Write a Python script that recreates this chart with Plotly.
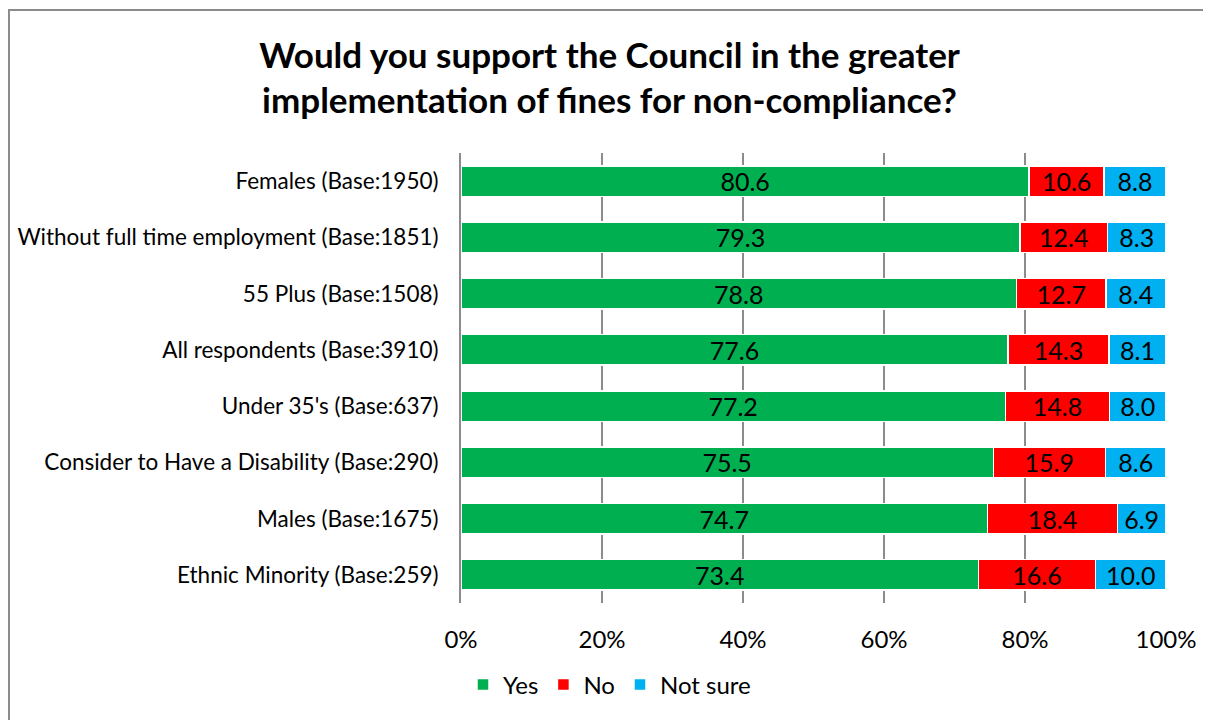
import plotly.graph_objects as go

# survey groups, top to bottom
groups = [
    "Females (Base:1950)",
    "Without full time employment (Base:1851)",
    "55 Plus (Base:1508)",
    "All respondents (Base:3910)",
    "Under 35's (Base:637)",
    "Consider to Have a Disability (Base:290)",
    "Males (Base:1675)",
    "Ethnic Minority (Base:259)",
]
yes = [80.6, 79.3, 78.8, 77.6, 77.2, 75.5, 74.7, 73.4]
no = [10.6, 12.4, 12.7, 14.3, 14.8, 15.9, 18.4, 16.6]
not_sure = [8.8, 8.3, 8.4, 8.1, 8.0, 8.6, 6.9, 10.0]

x_ticks = [0, 20, 40, 60, 80, 100]
x_tick_text = ["0%", "20%", "40%", "60%", "80%", "100%"]

FONT = "Lato, Calibri, 'Open Sans', sans-serif"

# the page body has an 8px margin, so the figure is sized 8px smaller
W, H = 1203, 712
L, T, R, B = 453, 145, 45, 117
PW, PH = W - L - R, H - T - B

fig = go.Figure()
for name, vals, col in [("Yes", yes, "#00B050"), ("No", no, "#FF0000"), ("Not sure", not_sure, "#00B0F0")]:
    fig.add_trace(go.Bar(
        y=groups, x=vals, name=name, orientation="h",
        marker=dict(color=col, line=dict(color="white", width=1.5)),
        text=[f"{v:.1f}" for v in vals], textposition="inside",
        insidetextanchor="middle",
        textfont=dict(size=25, color="black", family=FONT),
        cliponaxis=False,
    ))

# chart frame: only the top and left edges show in the reference
fx0, fx1 = (0 - L) / PW, (W + 20 - L) / PW
fy0, fy1 = (T + PH - H - 20) / PH, (T + PH - 2) / PH
frame = dict(color="#8c8c8c", width=2)

fig.update_layout(
    barmode="stack",
    bargap=0.46,
    width=W, height=H,
    margin=dict(l=L, r=R, t=T, b=B, autoexpand=False),
    paper_bgcolor="white", plot_bgcolor="white",
    font=dict(family=FONT, color="black"),
    uniformtext=dict(mode="show", minsize=25),
    title=dict(
        text="<b>Would you support the Council in the greater<br>implementation of fines for non-compliance?</b>",
        x=0.5, xanchor="center", y=0.916, yanchor="middle",
        font=dict(size=35, color="black", family=FONT),
    ),
    legend=dict(
        orientation="h", x=2 / PW, xanchor="left", y=-0.182, yanchor="middle",
        font=dict(size=24, family=FONT), traceorder="normal",
        itemwidth=30,
    ),
    xaxis=dict(
        range=[0, 100], tickvals=x_ticks, ticktext=x_tick_text,
        showgrid=True, gridcolor="#8c8c8c", gridwidth=2,
        zeroline=False, showline=False, automargin=False,
        tickfont=dict(size=24), ticklabelstandoff=20,
    ),
    yaxis=dict(
        autorange="reversed", showgrid=False, automargin=False,
        showline=True, linecolor="#8c8c8c", linewidth=2,
        tickfont=dict(size=22.5), ticklabelstandoff=16,
    ),
    shapes=[
        dict(type="line", xref="paper", yref="paper", x0=fx0, x1=fx1, y0=fy1, y1=fy1, line=frame),
        dict(type="line", xref="paper", yref="paper", x0=fx0 + 1 / PW, x1=fx0 + 1 / PW, y0=fy0, y1=fy1, line=frame),
    ],
)

fig.write_html("out.html")
